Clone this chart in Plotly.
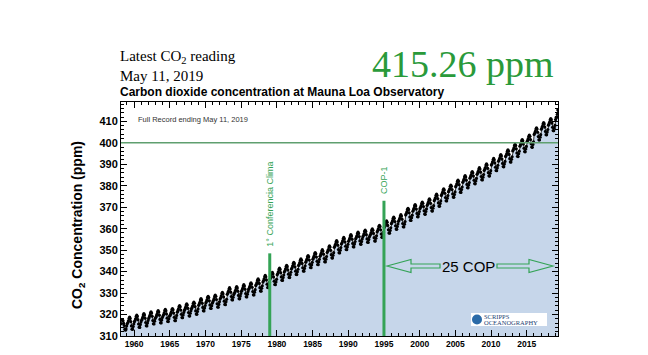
import pandas as pd
import plotly.graph_objects as go

# ---------------- data ----------------
first_month = "1958-03-01"          # first monthly value: March 1958
ppm_monthly = [
    315.7, 317.5, 317.5, 317.1, 315.9, 314.9, 313.2, 312.7, 313.3, 314.7,  # 1958 (Mar-Dec)
    315.7, 316.3, 317.1, 318.2, 318.8, 318.2, 316.7, 314.7, 313.2, 313.1, 314.4, 315.6,  # 1959
    316.6, 317.2, 318.0, 319.1, 319.7, 319.1, 317.6, 315.6, 314.1, 314.0, 315.3, 316.5,  # 1960
    317.3, 317.9, 318.7, 319.8, 320.4, 319.8, 318.3, 316.3, 314.8, 314.7, 316.0, 317.2,  # 1961
    318.2, 318.8, 319.6, 320.7, 321.3, 320.7, 319.2, 317.2, 315.7, 315.6, 316.9, 318.1,  # 1962
    318.7, 319.3, 320.1, 321.2, 321.8, 321.2, 319.7, 317.7, 316.2, 316.1, 317.4, 318.6,  # 1963
    319.3, 319.9, 320.7, 321.8, 322.4, 321.8, 320.3, 318.3, 316.8, 316.7, 318.0, 319.2,  # 1964
    319.7, 320.3, 321.1, 322.2, 322.8, 322.2, 320.7, 318.7, 317.2, 317.1, 318.4, 319.6,  # 1965
    321.1, 321.7, 322.5, 323.6, 324.2, 323.6, 322.1, 320.1, 318.6, 318.5, 319.8, 321.0,  # 1966
    321.9, 322.5, 323.3, 324.4, 325.0, 324.4, 322.9, 320.9, 319.4, 319.3, 320.6, 321.8,  # 1967
    322.7, 323.3, 324.1, 325.2, 325.8, 325.2, 323.7, 321.7, 320.2, 320.1, 321.4, 322.6,  # 1968
    324.3, 324.9, 325.7, 326.8, 327.4, 326.8, 325.3, 323.3, 321.8, 321.7, 323.0, 324.2,  # 1969
    325.4, 326.0, 326.8, 327.9, 328.5, 327.9, 326.4, 324.4, 322.9, 322.8, 324.1, 325.3,  # 1970
    326.0, 326.6, 327.4, 328.5, 329.1, 328.5, 327.0, 325.0, 323.5, 323.4, 324.7, 325.9,  # 1971
    327.2, 327.8, 328.6, 329.7, 330.3, 329.7, 328.2, 326.2, 324.7, 324.6, 325.9, 327.1,  # 1972
    329.4, 330.0, 330.8, 331.9, 332.5, 331.9, 330.4, 328.4, 326.9, 326.8, 328.1, 329.3,  # 1973
    329.9, 330.5, 331.3, 332.4, 333.0, 332.4, 330.9, 328.9, 327.4, 327.3, 328.6, 329.8,  # 1974
    330.8, 331.4, 332.2, 333.3, 333.9, 333.3, 331.8, 329.8, 328.3, 328.2, 329.5, 330.7,  # 1975
    331.7, 332.3, 333.1, 334.2, 334.8, 334.2, 332.7, 330.7, 329.2, 329.1, 330.4, 331.6,  # 1976
    333.5, 334.1, 334.9, 336.0, 336.6, 336.0, 334.5, 332.5, 331.0, 330.9, 332.2, 333.4,  # 1977
    335.1, 335.7, 336.5, 337.6, 338.2, 337.6, 336.1, 334.1, 332.6, 332.5, 333.8, 335.0,  # 1978
    336.5, 337.1, 337.9, 339.0, 339.6, 339.0, 337.5, 335.5, 334.0, 333.9, 335.2, 336.4,  # 1979
    338.5, 339.1, 339.9, 341.0, 341.6, 341.0, 339.5, 337.5, 336.0, 335.9, 337.2, 338.4,  # 1980
    339.8, 340.4, 341.2, 342.3, 342.9, 342.3, 340.8, 338.8, 337.3, 337.2, 338.5, 339.7,  # 1981
    341.2, 341.8, 342.6, 343.7, 344.3, 343.7, 342.2, 340.2, 338.7, 338.6, 339.9, 341.1,  # 1982
    342.8, 343.4, 344.2, 345.3, 345.9, 345.3, 343.8, 341.8, 340.3, 340.2, 341.5, 342.7,  # 1983
    344.4, 345.0, 345.8, 346.9, 347.5, 346.9, 345.4, 343.4, 341.9, 341.8, 343.1, 344.3,  # 1984
    345.8, 346.4, 347.2, 348.3, 348.9, 348.3, 346.8, 344.8, 343.3, 343.2, 344.5, 345.7,  # 1985
    347.1, 347.7, 348.5, 349.6, 350.2, 349.6, 348.1, 346.1, 344.6, 344.5, 345.8, 347.0,  # 1986
    348.9, 349.5, 350.3, 351.4, 352.0, 351.4, 349.9, 347.9, 346.4, 346.3, 347.6, 348.8,  # 1987
    351.3, 351.9, 352.7, 353.8, 354.4, 353.8, 352.3, 350.3, 348.8, 348.7, 350.0, 351.2,  # 1988
    352.8, 353.4, 354.2, 355.3, 355.9, 355.3, 353.8, 351.8, 350.3, 350.2, 351.5, 352.7,  # 1989
    354.1, 354.7, 355.5, 356.6, 357.2, 356.6, 355.1, 353.1, 351.6, 351.5, 352.8, 354.0,  # 1990
    355.3, 355.9, 356.7, 357.8, 358.4, 357.8, 356.3, 354.3, 352.8, 352.7, 354.0, 355.2,  # 1991
    356.2, 356.8, 357.6, 358.7, 359.3, 358.7, 357.2, 355.2, 353.7, 353.6, 354.9, 356.1,  # 1992
    356.8, 357.4, 358.2, 359.3, 359.9, 359.3, 357.8, 355.8, 354.3, 354.2, 355.5, 356.7,  # 1993
    358.5, 359.1, 359.9, 361.0, 361.6, 361.0, 359.5, 357.5, 356.0, 355.9, 357.2, 358.4,  # 1994
    360.5, 361.1, 361.9, 363.0, 363.6, 363.0, 361.5, 359.5, 358.0, 357.9, 359.2, 360.4,  # 1995
    362.3, 362.9, 363.7, 364.8, 365.4, 364.8, 363.3, 361.3, 359.8, 359.7, 361.0, 362.2,  # 1996
    363.4, 364.0, 364.8, 365.9, 366.5, 365.9, 364.4, 362.4, 360.9, 360.8, 362.1, 363.3,  # 1997
    366.4, 367.0, 367.8, 368.9, 369.5, 368.9, 367.4, 365.4, 363.9, 363.8, 365.1, 366.3,  # 1998
    368.1, 368.7, 369.5, 370.6, 371.2, 370.6, 369.1, 367.1, 365.6, 365.5, 366.8, 368.0,  # 1999
    369.3, 369.9, 370.7, 371.8, 372.4, 371.8, 370.3, 368.3, 366.8, 366.7, 368.0, 369.2,  # 2000
    370.8, 371.4, 372.2, 373.3, 373.9, 373.3, 371.8, 369.8, 368.3, 368.2, 369.5, 370.7,  # 2001
    373.0, 373.6, 374.4, 375.5, 376.1, 375.5, 374.0, 372.0, 370.5, 370.4, 371.7, 372.9,  # 2002
    375.5, 376.1, 376.9, 378.0, 378.6, 378.0, 376.5, 374.5, 373.0, 372.9, 374.2, 375.4,  # 2003
    377.2, 377.8, 378.6, 379.7, 380.3, 379.7, 378.2, 376.2, 374.7, 374.6, 375.9, 377.1,  # 2004
    379.5, 380.1, 380.9, 382.0, 382.6, 382.0, 380.5, 378.5, 377.0, 376.9, 378.2, 379.4,  # 2005
    381.6, 382.2, 383.0, 384.1, 384.7, 384.1, 382.6, 380.6, 379.1, 379.0, 380.3, 381.5,  # 2006
    383.5, 384.1, 384.9, 386.0, 386.6, 386.0, 384.5, 382.5, 381.0, 380.9, 382.2, 383.4,  # 2007
    385.3, 385.9, 386.7, 387.8, 388.4, 387.8, 386.3, 384.3, 382.8, 382.7, 384.0, 385.2,  # 2008
    387.1, 387.7, 388.5, 389.6, 390.2, 389.6, 388.1, 386.1, 384.6, 384.5, 385.8, 387.0,  # 2009
    389.6, 390.2, 391.0, 392.1, 392.7, 392.1, 390.6, 388.6, 387.1, 387.0, 388.3, 389.5,  # 2010
    391.4, 392.0, 392.8, 393.9, 394.5, 393.9, 392.4, 390.4, 388.9, 388.8, 390.1, 391.3,  # 2011
    393.6, 394.2, 395.0, 396.1, 396.7, 396.1, 394.6, 392.6, 391.1, 391.0, 392.3, 393.5,  # 2012
    396.2, 396.8, 397.6, 398.7, 399.3, 398.7, 397.2, 395.2, 393.7, 393.6, 394.9, 396.1,  # 2013
    398.4, 399.0, 399.8, 400.9, 401.5, 400.9, 399.4, 397.4, 395.9, 395.8, 397.1, 398.3,  # 2014
    400.5, 401.1, 401.9, 403.0, 403.6, 403.0, 401.5, 399.5, 398.0, 397.9, 399.2, 400.4,  # 2015
    403.9, 404.5, 405.3, 406.4, 407.0, 406.4, 404.9, 402.9, 401.4, 401.3, 402.6, 403.8,  # 2016
    406.3, 406.9, 407.7, 408.8, 409.4, 408.8, 407.3, 405.3, 403.8, 403.7, 405.0, 406.2,  # 2017
    408.2, 408.8, 409.6, 410.7, 411.3, 410.7, 409.2, 407.2, 405.7, 405.6, 406.9, 408.1,  # 2018
    410.8, 411.8, 412.0, 413.3,                                                          # 2019 (Jan-Apr)
]
latest_date = "2019-05-11"
latest_ppm = 415.26
latest_label = "415.26 ppm"
latest_text = "May 11, 2019"

events = ["1979-01-01", "1995-01-01"]
event_labels = ["1° Conferencia Clima", "COP-1"]
event_tops = [348.5, 373.0]
event_label_y = [371.5, 382.6]
reference_level = 400
cop_span_label = "25 COP"

x_range = ["1958-03-01", "2019-05-20"]
y_range = [310, 419]

# ---------------- build ----------------
dates = list(pd.date_range(first_month, periods=len(ppm_monthly), freq="MS") + pd.Timedelta(days=14))
dates.append(pd.Timestamp(latest_date))
values = ppm_monthly + [latest_ppm]

GREEN = "#34a356"
SANS = "Liberation Sans"
SERIF = "Liberation Serif"

L, R, T, B = 121, 558, 102, 336
W, H = R - L, B - T
def px(x): return (x - L) / W
def py(y): return (B - y) / H

fig = go.Figure()
fig.add_trace(go.Scatter(x=dates, y=values, mode="lines", line=dict(width=0),
                         fill="tozeroy", fillcolor="#c6d6ea", hoverinfo="skip", showlegend=False))
fig.add_trace(go.Scatter(x=dates, y=values, mode="lines+markers",
                         line=dict(color="black", width=0.8),
                         marker=dict(color="black", size=3.2), showlegend=False))

shapes = []
shapes.append(dict(type="line", xref="paper", x0=0, x1=1, yref="y", y0=reference_level, y1=reference_level,
                   line=dict(color="#5f9f6f", width=1.5)))
for d, top in zip(events, event_tops):
    shapes.append(dict(type="line", xref="x", x0=d, x1=d, yref="y", y0=y_range[0], y1=top,
                       line=dict(color=GREEN, width=3)))

def path(points):
    return "M " + " L ".join(f"{px(a):.5f},{py(b):.5f}" for a, b in points) + " Z"

left_arrow = [(387, 266), (411, 259.5), (411, 264), (440, 264), (440, 268), (411, 268), (411, 272.5)]
right_arrow = [(553, 266), (529, 259.5), (529, 264), (497, 264), (497, 268), (529, 268), (529, 272.5)]
for pts in (left_arrow, right_arrow):
    shapes.append(dict(type="path", xref="paper", yref="paper", path=path(pts),
                       line=dict(color=GREEN, width=1.2), fillcolor="rgba(0,0,0,0)"))

# Scripps logo (approximation)
shapes.append(dict(type="rect", xref="paper", yref="paper", x0=px(471), x1=px(547), y0=py(326), y1=py(313),
                   fillcolor="white", line=dict(width=0)))
shapes.append(dict(type="circle", xref="paper", yref="paper", x0=px(472), x1=px(482), y0=py(324.5), y1=py(314.5),
                   fillcolor="#2a6aa8", line=dict(width=0)))

ann = []
def text(x, y, s, size, family=SANS, color="black", xanchor="left", weight="normal", angle=0, xref="paper", yref="paper"):
    ann.append(dict(x=x, y=y, xref=xref, yref=yref, text=s, showarrow=False, xanchor=xanchor, yanchor="middle",
                    textangle=angle, font=dict(family=family, size=size, color=color, weight=weight)))

text(px(118), py(57), "Latest CO<sub>2</sub> reading", 15, SERIF)
text(px(118), py(76), latest_text, 15, SERIF)
text(px(370), py(64), latest_label, 38, SERIF, color="#2a9a3a")
text(px(118), py(92), "Carbon dioxide concentration at Mauna Loa Observatory", 12, SANS, weight="bold")
text(px(136), py(120), "Full Record ending " + latest_text, 7.5, SANS, color="#333333")
text(px(78), py(225), "CO<sub>2</sub> Concentration (ppm)", 14, SANS, xanchor="center", weight="bold", angle=-90)
for d, lab, ly in zip(events, event_labels, event_label_y):
    text(d, ly, lab, 9, SANS, color=GREEN, xanchor="center", angle=-90, xref="x", yref="y")
text(px(468), py(266), cop_span_label, 15, SANS, xanchor="center")
text(px(482), py(316.5), "SCRIPPS", 6.5, SERIF, color="#1d3f73")
text(px(482), py(322.5), "OCEANOGRAPHY", 6.5, SERIF, color="#1d3f73")

axis_common = dict(showline=True, linecolor="black", linewidth=1, mirror="allticks", ticks="inside",
                   tickcolor="black", ticklen=6, showgrid=False, zeroline=False)

fig.update_layout(
    width=648, height=355,
    margin=dict(l=L, r=648 - R, t=T, b=355 - B, autoexpand=False),
    paper_bgcolor="white", plot_bgcolor="white",
    showlegend=False,
    shapes=shapes, annotations=ann,
    xaxis=dict(type="date", range=x_range, tick0="1960-01-01", dtick="M60", tickformat="%Y",
               tickfont=dict(family=SANS, size=8.5, color="black", weight="bold"),
               minor=dict(dtick="M12", tick0="1960-01-01", ticks="inside", ticklen=3, tickcolor="black"),
               **axis_common),
    yaxis=dict(range=y_range, tick0=310, dtick=10,
               tickfont=dict(family=SANS, size=11, color="black", weight="bold"),
               minor=dict(dtick=2, ticks="inside", ticklen=3, tickcolor="black"),
               **axis_common),
)

fig.write_html("out.html", config={"displayModeBar": False},
               post_script="document.body.style.margin='0';document.body.style.overflow='hidden';")
